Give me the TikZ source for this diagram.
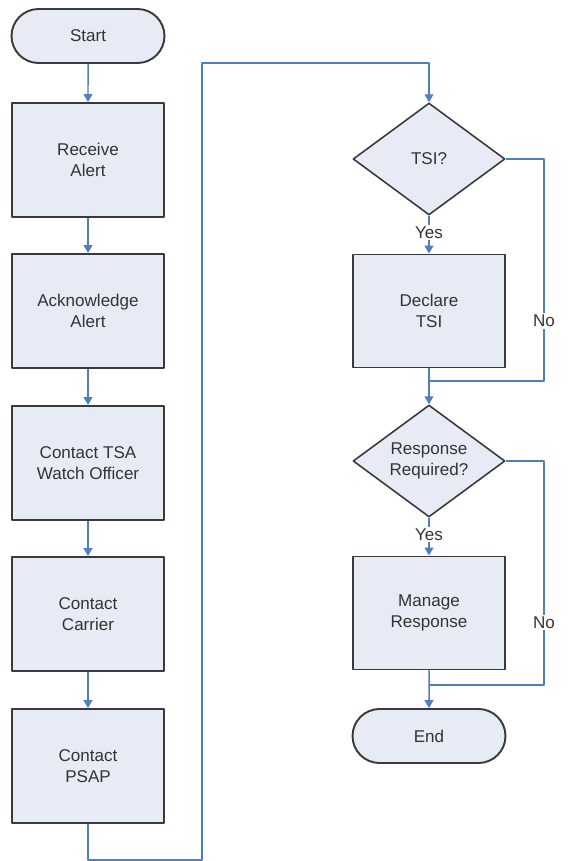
\documentclass[tikz,border=0pt]{standalone}
\usepackage{fontspec}
\setmainfont{Liberation Sans}
\usetikzlibrary{shapes.geometric,shapes.misc,arrows.meta}
\definecolor{boxfill}{HTML}{E6EBF6}
\definecolor{flowline}{HTML}{4F7FC0}
\definecolor{boxline}{HTML}{3A3A3A}
\tikzset{
  procbox/.style={draw=boxline,fill=boxfill,line width=1.1pt,minimum width=3.04cm,minimum height=2.28cm,inner sep=0pt,align=center,text=black!80},
  decbox/.style={diamond,aspect=1.36,draw=boxline,fill=boxfill,line width=0.9pt,minimum width=3.04cm,minimum height=2.24cm,inner sep=0pt,align=center,text=black!80},
  termbox/.style={rounded rectangle,draw=boxline,fill=boxfill,line width=1.1pt,minimum width=3.06cm,minimum height=1.08cm,inner sep=0pt,text=black!80},
  flow/.style={draw=flowline,line width=0.85pt},
  branch/.style={fill=white,inner sep=1pt,text=black!80}
}
\begin{document}
\begin{tikzpicture}[x=0.02cm,y=-0.02cm,>={Triangle[length=4.5pt,width=5pt]},font=\fontsize{9.7}{12}\selectfont,line join=round]
\useasboundingbox (0,0) rectangle (570,861);
% left column
\node[termbox] (start) at (88,36) {Start};
\node[procbox] (recv) at (88,160) {Receive\\Alert};
\node[procbox] (ack) at (88,311) {Acknowledge\\Alert};
\node[procbox] (tsa) at (88,463) {Contact TSA\\Watch Officer};
\node[procbox] (carrier) at (88,614) {Contact\\Carrier};
\node[procbox] (psap) at (88,766) {Contact\\PSAP};
% right column
\node[decbox] (tsi) at (429,159) {TSI?};
\node[procbox,minimum height=2.26cm] (decl) at (429,311) {Declare\\TSI};
\node[decbox] (resp) at (429,461) {Response\\Required?};
\node[procbox,minimum height=2.26cm] (mng) at (429,613) {Manage\\Response};
\node[termbox] (fin) at (429,736) {End};
\path
  (88,860) coordinate (b1)
  (202,860) coordinate (b2)
  (202,63) coordinate (b3)
  (429,63) coordinate (b4)
  (544,159) coordinate (n1)
  (544,381) coordinate (n2)
  (429,381) coordinate (j1)
  (544,461) coordinate (n3)
  (544,685) coordinate (n4)
  (429,685) coordinate (j2);
\foreach \a/\b in {start/recv,recv/ack,ack/tsa,tsa/carrier,carrier/psap,decl/resp,mng/fin}
  \draw[flow,->] (\a) -- (\b);
\draw[flow,->] (psap) -- (b1) -- (b2) -- (b3) -- (b4) -- (tsi);
\draw[flow,->] (tsi) -- node[branch,pos=0.45]{Yes} (decl);
\draw[flow,->] (resp) -- node[branch,pos=0.45]{Yes} (mng);
\draw[flow] (tsi.east) -- (n1) -- node[branch,pos=0.73]{No} (n2) -- (j1);
\draw[flow] (resp.east) -- (n3) -- node[branch,pos=0.72]{No} (n4) -- (j2);
\end{tikzpicture}
\end{document}
